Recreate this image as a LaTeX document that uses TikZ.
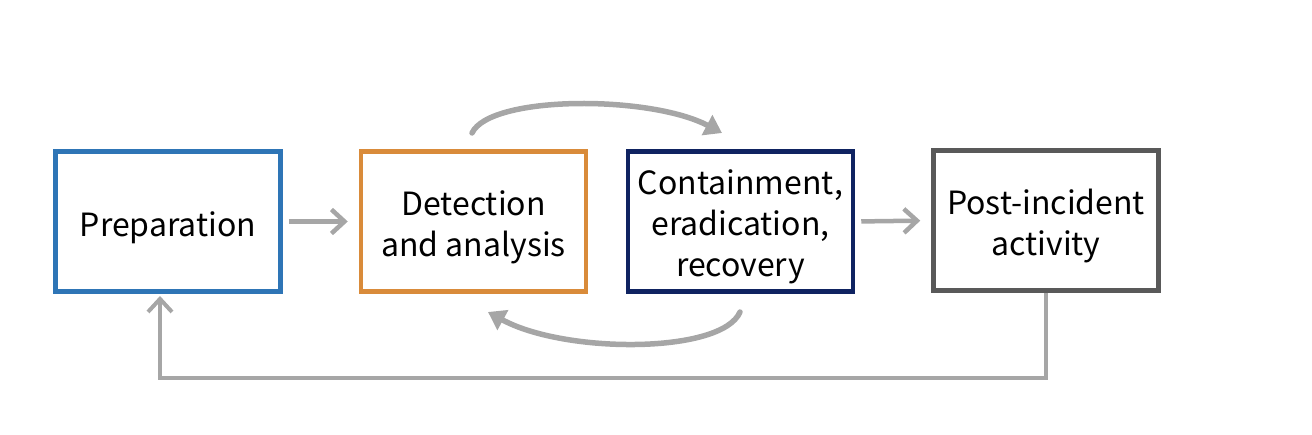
\documentclass[tikz,border=0pt]{standalone}
\usepackage{fontspec}
\setmainfont{Noto Sans CJK SC}
\usetikzlibrary{arrows.meta}
\definecolor{cblue}{HTML}{2E75B6}
\definecolor{corange}{HTML}{D98B3A}
\definecolor{cnavy}{HTML}{0F2361}
\definecolor{cdgray}{HTML}{595959}
\definecolor{carrow}{HTML}{A6A6A6}
\tikzset{
  box/.style={draw, line width=4.5pt, fill=white, minimum width=225pt, minimum height=140pt, inner sep=0pt},
  boxtext/.style={align=center, inner sep=0pt, yshift=-6pt, font=\fontsize{32}{41}\selectfont},
  flow/.style={draw=carrow, line width=4.5pt, -{Straight Barb[length=13pt,width=24pt]}},
  loopar/.style={draw=carrow, line width=5.5pt, line cap=round, -{Triangle[length=17pt,width=22pt]}},
  back/.style={draw=carrow, line width=4pt, -{Straight Barb[length=13pt,width=24pt]}}
}
\begin{document}
\begin{tikzpicture}[x=1pt,y=-1pt]
\useasboundingbox (0,0) rectangle (1312,434);
\node[box, draw=cblue, label={[boxtext]center:Preparation}] (Prep) at (168,221.5) {};
\node[box, draw=corange, label={[boxtext]center:Detection\\and analysis}] (Det) at (473.5,221.5) {};
\node[box, draw=cnavy, label={[boxtext, yshift=1pt]center:Containment,\\eradication,\\recovery}] (Cont) at (740.5,221.5) {};
\node[box, draw=cdgray, label={[boxtext]center:Post-incident\\activity}] (Post) at (1046,220.5) {};
\coordinate (topS) at (472,133);
\coordinate (topE) at (722,133);
\coordinate (botS) at (740,312);
\coordinate (botE) at (488,312);
\coordinate (backE) at (160,296);
\draw[flow, shorten <=6pt, shorten >=11pt] (Prep.east) -- (Det.west);
\draw[flow, shorten <=6pt, shorten >=11pt] (Cont.east) -- (Post.west);
\draw[loopar] (topS) .. controls (490,95) and (650,95) .. (topE);
\draw[loopar] (botS) .. controls (722,354) and (565,354) .. (botE);
\draw[back] (Post.south) -- ++(0,85) -| (backE);
\end{tikzpicture}
\end{document}
